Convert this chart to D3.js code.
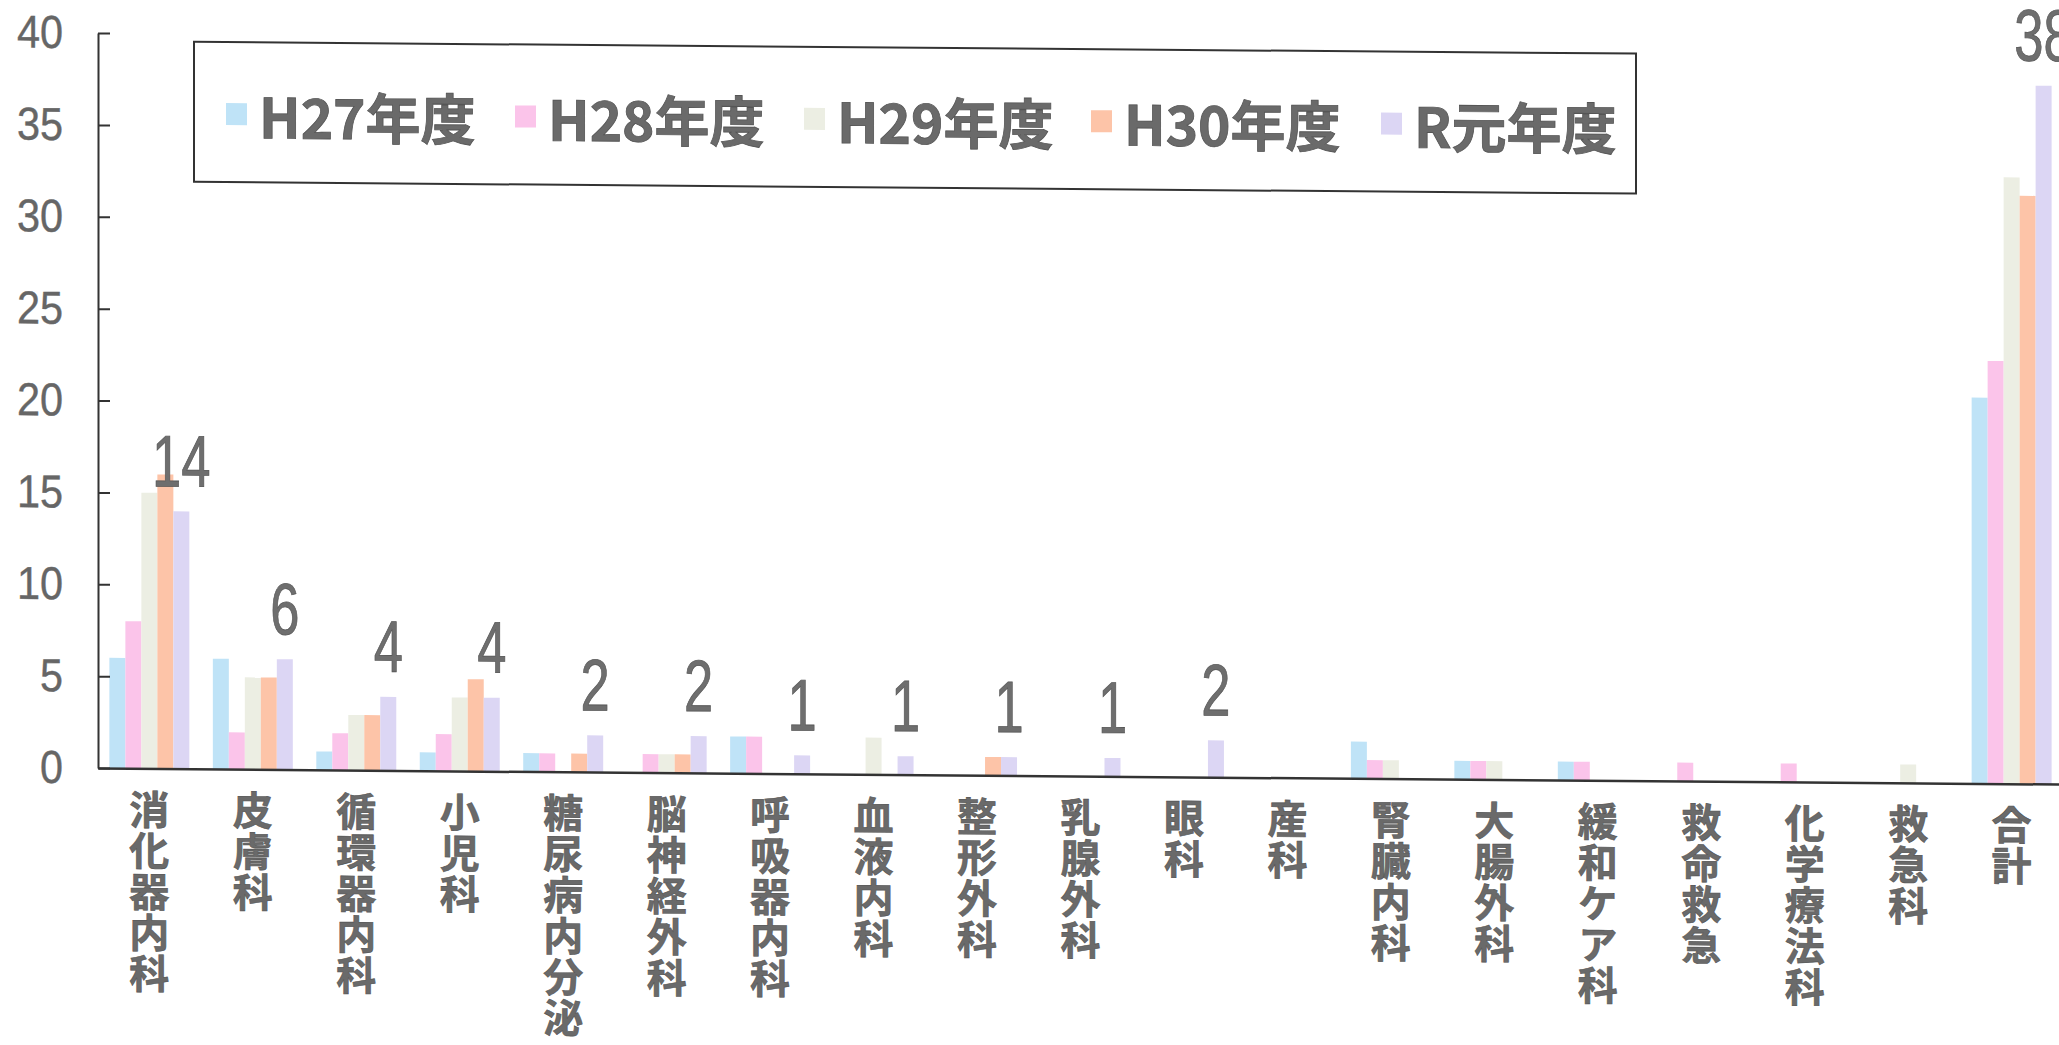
<!DOCTYPE html>
<html>
<head>
<meta charset="utf-8">
<script src="https://cdn.jsdelivr.net/npm/d3@7"></script>
<style>
  html, body { margin: 0; padding: 0; background: #fff; }
  svg { display: block; }
  .vlabel { writing-mode: vertical-rl; text-orientation: upright; }
</style>
</head>
<body>
<svg id="chart" width="2059" height="1045"></svg>
<script>
const categories = ["消化器内科","皮膚科","循環器内科","小児科","糖尿病内分泌","脳神経外科","呼吸器内科","血液内科","整形外科","乳腺外科","眼科","産科","腎臓内科","大腸外科","緩和ケア科","救命救急","化学療法科","救急科","合計"];
const seriesNames = ["H27年度","H28年度","H29年度","H30年度","R元年度"];
const h27 = [6,6,1,1,1,0,2,0,0,0,0,0,2,1,1,0,0,0,21];
const h28 = [8,2,2,2,1,1,2,0,0,0,0,0,1,1,1,1,1,0,23];
const h29 = [15,5,3,4,0,1,0,2,0,0,0,0,1,1,0,0,0,1,33];
const h30 = [16,5,3,5,1,1,0,0,1,0,0,0,0,0,0,0,0,0,32];
const r1  = [14,6,4,4,2,2,1,1,1,1,2,0,0,0,0,0,0,0,38];
const yTicks = [0,5,10,15,20,25,30,35,40];
const colors = ["#bfe3f7","#fbc4ea","#eceee3","#fdc4a8","#dcd6f4"];

const seriesValues = [h27,h28,h29,h30,r1];
const svg = d3.select("#chart");
const root = svg.append("g")
  .attr("transform", "translate(98,0) skewY(0.47) translate(-98,0)");

const x = d3.scaleBand().domain(categories).range([98, 2063]).paddingInner(0.227).paddingOuter(0.11);
const x1 = d3.scaleBand().domain(seriesNames).range([0, x.bandwidth()]);
const y = d3.scaleLinear().domain([0, 40]).range([768, 33]);

function condense(sel, f) {
  sel.each(function () {
    const w = this.getComputedTextLength();
    this.setAttribute("textLength", (w * f).toFixed(1));
    this.setAttribute("lengthAdjust", "spacingAndGlyphs");
  });
}

// bars
categories.forEach((c, ci) => {
  const g = root.append("g").attr("transform", `translate(${x(c)},0)`);
  seriesNames.forEach((s, si) => {
    const v = seriesValues[si][ci];
    if (v <= 0) return;
    g.append("rect")
      .attr("x", x1(s))
      .attr("y", y(v))
      .attr("width", x1.bandwidth())
      .attr("height", y(0) - y(v))
      .attr("fill", colors[si]);
  });
});

// y axis
const yAxis = d3.axisLeft(y).tickValues(yTicks).tickSizeInner(-12).tickSizeOuter(0).tickPadding(35);
const yg = root.append("g").attr("transform", "translate(98,0)").call(yAxis);
yg.select(".domain").attr("stroke", "#333").attr("stroke-width", 2);
yg.selectAll(".tick line").attr("stroke", "#333").attr("stroke-width", 2);
yg.selectAll(".tick text")
  .attr("font-family", "'Liberation Sans', Arial, sans-serif")
  .attr("font-size", 46)
  .attr("fill", "#666")
  .attr("stroke", "#666")
  .attr("stroke-width", 0.4);
condense(yg.selectAll(".tick text"), 0.9);

// x axis baseline
const xAxis = d3.axisBottom(x).tickSize(0).tickFormat("");
const xg = root.append("g").attr("transform", `translate(0,${y(0)})`).call(xAxis);
xg.select(".domain").attr("stroke", "#333").attr("stroke-width", 2.5);

// vertical category labels
root.append("g").selectAll("text")
  .data(categories)
  .join("text")
  .attr("class", "vlabel")
  .attr("x", d => x(d) + x.bandwidth() / 2)
  .attr("y", 789)
  .attr("font-family", "'Noto Sans CJK JP', sans-serif")
  .attr("font-weight", "bold")
  .attr("font-size", 40)
  .attr("letter-spacing", 1)
  .attr("fill", "#6a6a6a")
  .attr("stroke", "#555")
  .attr("stroke-width", 0.6)
  .text(d => d);

// data labels (R元年度)
const dl = root.append("g").selectAll("text")
  .data(categories.map((c, ci) => ({ c, v: r1[ci] })).filter(d => d.v > 0))
  .join("text")
  .attr("x", d => x(d.c) + x1(seriesNames[4]) + x1.bandwidth() / 2)
  .attr("y", d => y(d.v) - 25)
  .attr("text-anchor", "middle")
  .attr("font-family", "'Liberation Sans', Arial, sans-serif")
  .attr("font-size", 73)
  .attr("fill", "#6e6e6e")
  .attr("stroke", "#555")
  .attr("stroke-width", 0.8)
  .text(d => d.v);
condense(dl, 0.72);

// legend
const legend = root.append("g");
legend.append("rect")
  .attr("x", 194).attr("y", 41).attr("width", 1442).attr("height", 140)
  .attr("fill", "#fff").attr("stroke", "#333").attr("stroke-width", 2);
const legendX = [226, 515, 804, 1091, 1381];
seriesNames.forEach((s, i) => {
  legend.append("rect")
    .attr("x", legendX[i]).attr("y", 102).attr("width", 21).attr("height", 22)
    .attr("fill", colors[i]);
  legend.append("text")
    .attr("x", legendX[i] + 33).attr("y", 137)
    .attr("font-family", "'Noto Sans CJK JP', sans-serif")
    .attr("font-weight", "bold")
    .attr("font-size", 55)
    .attr("fill", "#6a6a6a")
    .attr("stroke", "#555")
    .attr("stroke-width", 0.8)
    .text(s);
});
</script>
</body>
</html>
